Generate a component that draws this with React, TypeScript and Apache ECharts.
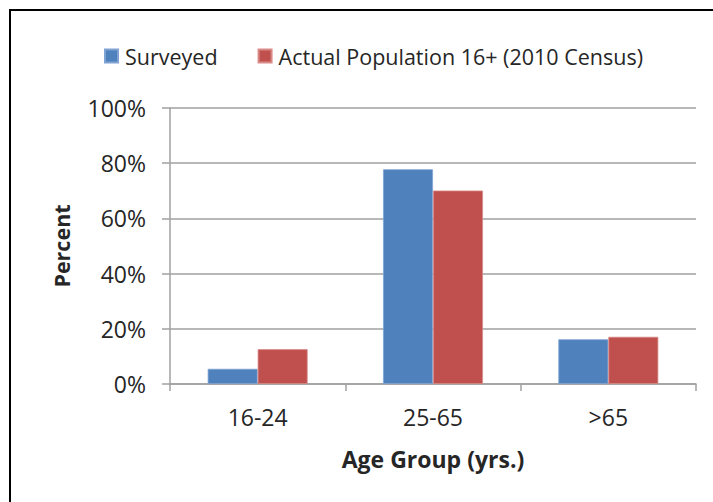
import React, { useEffect, useRef } from "react";
import * as echarts from "echarts";

const categories = ["16-24", "25-65", ">65"];
const surveyed = [0.055, 0.778, 0.162];
const actual = [0.126, 0.701, 0.171];
const seriesNames = ["Surveyed", "Actual Population 16+ (2010 Census)"];
const yTicks = { min: 0, max: 1, interval: 0.2 };

const FONT = "Open Sans";
const TXT = "#262626";

export default function App() {
  const ref = useRef<HTMLDivElement>(null);
  useEffect(() => {
    if (!ref.current) return;
    const chart = echarts.init(ref.current, undefined, { renderer: "svg" });
    chart.setOption({
      animation: false,
      backgroundColor: "#ffffff",
      textStyle: { fontFamily: FONT, color: TXT },
      graphic: [
        { type: "line", shape: { x1: 9, y1: 10, x2: 713, y2: 10 }, style: { stroke: "#000", lineWidth: 2 } },
        { type: "line", shape: { x1: 10, y1: 9, x2: 10, y2: 502 }, style: { stroke: "#000", lineWidth: 2 } },
      ],
      legend: {
        top: 40,
        left: 99,
        itemWidth: 13,
        itemHeight: 13,
        itemGap: 40,
        icon: "rect",
        textStyle: { fontFamily: FONT, fontSize: 21.5, color: TXT, padding: [0, 0, 0, 2] },
        data: seriesNames,
      },
      grid: { left: 170, right: 17, top: 108, bottom: 118, containLabel: false },
      xAxis: {
        type: "category",
        data: categories,
        name: "Age Group (yrs.)",
        nameLocation: "middle",
        nameGap: 63,
        nameTextStyle: { fontFamily: FONT, fontSize: 23, fontWeight: "bold", color: TXT },
        axisLine: { lineStyle: { color: "#A0A0A0", width: 1.5 } },
        axisTick: { show: true, length: 7, lineStyle: { color: "#A0A0A0", width: 1.5 } },
        axisLabel: { fontFamily: FONT, fontSize: 23, color: TXT, margin: 21 },
      },
      yAxis: {
        type: "value",
        min: yTicks.min,
        max: yTicks.max,
        interval: yTicks.interval,
        name: "Percent",
        nameLocation: "middle",
        nameGap: 98,
        nameTextStyle: { fontFamily: FONT, fontSize: 21.5, fontWeight: "bold", color: TXT },
        axisLine: { show: true, lineStyle: { color: "#A0A0A0", width: 1.5 } },
        axisTick: { show: true, length: 8, lineStyle: { color: "#A0A0A0", width: 1.5 } },
        splitLine: { show: true, lineStyle: { color: "#A0A0A0", width: 1.5 } },
        axisLabel: {
          fontFamily: FONT,
          fontSize: 23,
          color: TXT,
          margin: 24,
          formatter: (v: number) => `${Math.round(v * 100)}%`,
        },
      },
      series: [
        {
          name: seriesNames[0],
          type: "bar",
          data: surveyed,
          barGap: "0%",
          barCategoryGap: "43%",
          itemStyle: { color: "#4F81BD", borderColor: "#7FA3D3", borderWidth: 0.8 },
        },
        {
          name: seriesNames[1],
          type: "bar",
          data: actual,
          barGap: "0%",
          barCategoryGap: "43%",
          itemStyle: { color: "#C0504D", borderColor: "#D88A88", borderWidth: 0.8 },
        },
      ],
    });
    return () => chart.dispose();
  }, []);
  return (
    <div style={{ position: "fixed", left: 0, top: 0, width: 713, height: 502, background: "#fff" }}>
      <div ref={ref} style={{ width: 713, height: 502 }} />
    </div>
  );
}
